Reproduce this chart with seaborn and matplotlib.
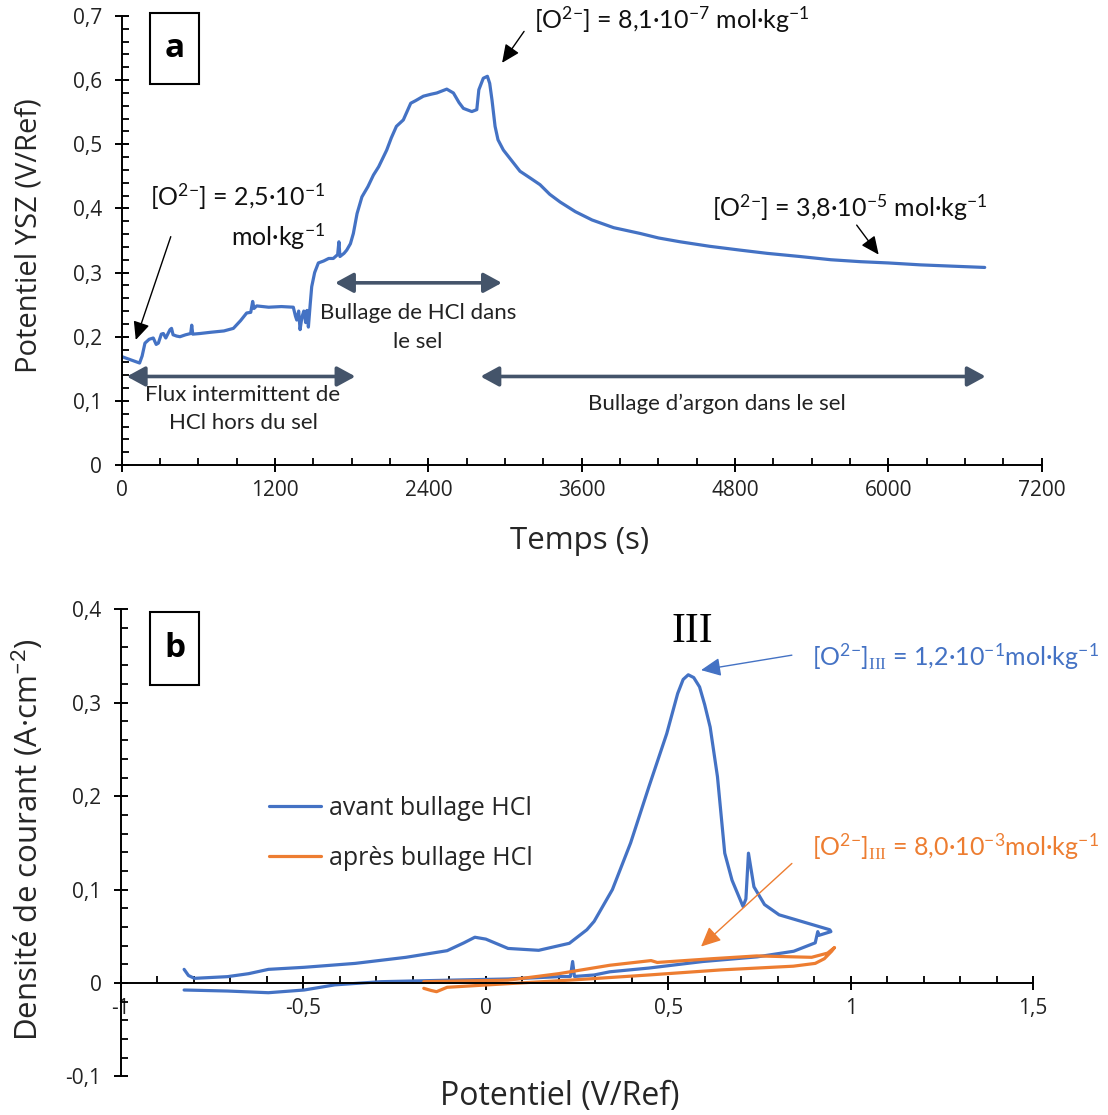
import numpy as np
import pandas as pd
import matplotlib
matplotlib.use("Agg")
import matplotlib.pyplot as plt
import seaborn as sns
from matplotlib.patches import Rectangle
from matplotlib.ticker import MultipleLocator, FuncFormatter

# ---------------- data : panel a (potentiel YSZ vs temps) ----------------
time_s = [0, 70, 140, 160, 182, 215, 247, 270, 287, 310, 326, 345, 378, 390, 402,
          430, 456, 500, 540, 548, 556, 613, 700, 800, 874, 930, 978, 1010, 1025,
          1035, 1057, 1150, 1250, 1343, 1360, 1370, 1385, 1396, 1410, 1425, 1440,
          1450, 1461, 1475, 1487, 1510, 1539, 1580, 1620, 1656, 1690, 1700, 1708,
          1740, 1761, 1790, 1813, 1842, 1880, 1927, 1970, 2011, 2074, 2110, 2150,
          2204, 2262, 2300, 2361, 2420, 2466, 2544, 2596, 2640, 2674, 2740, 2779,
          2795, 2830, 2862, 2880, 2898, 2922, 2945, 2987, 3050, 3117, 3200, 3274,
          3350, 3431, 3550, 3681, 3850, 4057, 4200, 4370, 4600, 4840, 5050, 5310,
          5550, 5780, 6000, 6252, 6500, 6754]
potential_ysz = [0.169, 0.164, 0.159, 0.170, 0.190, 0.196, 0.198, 0.188, 0.190, 0.204,
                 0.205, 0.198, 0.211, 0.213, 0.203, 0.201, 0.200, 0.203, 0.205, 0.218,
                 0.204, 0.205, 0.207, 0.209, 0.213, 0.225, 0.237, 0.238, 0.255, 0.244,
                 0.248, 0.246, 0.247, 0.246, 0.232, 0.226, 0.240, 0.211, 0.230, 0.240,
                 0.222, 0.241, 0.215, 0.250, 0.278, 0.300, 0.315, 0.318, 0.322, 0.322,
                 0.328, 0.348, 0.325, 0.330, 0.335, 0.345, 0.361, 0.392, 0.418, 0.434,
                 0.452, 0.465, 0.491, 0.510, 0.528, 0.538, 0.564, 0.568, 0.575, 0.578,
                 0.580, 0.586, 0.580, 0.565, 0.556, 0.551, 0.554, 0.585, 0.603, 0.606,
                 0.595, 0.569, 0.528, 0.507, 0.491, 0.475, 0.458, 0.447, 0.437, 0.422,
                 0.410, 0.395, 0.382, 0.370, 0.361, 0.354, 0.348, 0.341, 0.335, 0.330,
                 0.325, 0.320, 0.317, 0.315, 0.312, 0.310, 0.308]

# ---------------- data : panel b (voltampérogrammes) ----------------
e_avant = [-0.827, -0.815, -0.799, -0.708, -0.650, -0.596, -0.498, -0.358, -0.219,
           -0.106, -0.060, -0.030, 0.000, 0.061, 0.145, 0.229, 0.277, 0.297, 0.347,
           0.397, 0.447, 0.496, 0.526, 0.541, 0.555, 0.570, 0.586, 0.600, 0.615,
           0.635, 0.655, 0.675, 0.705, 0.713, 0.720, 0.735, 0.764, 0.804, 0.943, 0.946,
           0.913, 0.910, 0.903, 0.844, 0.744, 0.595, 0.447, 0.340, 0.297, 0.243,
           0.238, 0.232, 0.201, 0.061, -0.079, -0.288, -0.414, -0.498, -0.596,
           -0.708, -0.827]
j_avant = [0.0146, 0.008, 0.005, 0.0068, 0.010, 0.0146, 0.0168, 0.021, 0.0275,
           0.0346, 0.043, 0.049, 0.047, 0.037, 0.035, 0.0425, 0.057, 0.066, 0.100,
           0.150, 0.210, 0.267, 0.310, 0.325, 0.330, 0.327, 0.317, 0.298, 0.274,
           0.221, 0.139, 0.110, 0.082, 0.090, 0.139, 0.103, 0.084, 0.073, 0.057, 0.055,
           0.051, 0.055, 0.043, 0.034, 0.028, 0.023, 0.016, 0.012, 0.0086, 0.007,
           0.023, 0.007, 0.0068, 0.0043, 0.0032, 0.0014, -0.002, -0.0075, -0.0104,
           -0.0086, -0.0075]
e_apres = [-0.170, 0.061, 0.200, 0.340, 0.453, 0.470, 0.620, 0.743, 0.893, 0.937,
           0.956, 0.948, 0.928, 0.903, 0.843, 0.644, 0.447, 0.248, 0.005, -0.106,
           -0.135, -0.150, -0.170]
j_apres = [0.0014, 0.003, 0.010, 0.019, 0.024, 0.022, 0.026, 0.029, 0.0275, 0.032,
           0.038, 0.034, 0.026, 0.021, 0.018, 0.014, 0.0086, 0.0035, -0.002, -0.0046,
           -0.0093, -0.008, -0.0057]

series_labels = ["avant bullage HCl", "après bullage HCl"]
xticks_a = [0, 1200, 2400, 3600, 4800, 6000, 7200]
yticks_a = [0, 0.1, 0.2, 0.3, 0.4, 0.5, 0.6, 0.7]
xticks_b = [-1, -0.5, 0, 0.5, 1, 1.5]
yticks_b = [-0.1, 0, 0.1, 0.2, 0.3, 0.4]

BLUE = "#4472C4"
ORANGE = "#ED7D31"
SLATE = "#44546A"

sns.set_theme(style="ticks")
plt.rcParams["font.family"] = ["Open Sans", "DejaVu Sans"]
plt.rcParams["mathtext.fontset"] = "custom"
plt.rcParams["mathtext.rm"] = "Lato"
plt.rcParams["mathtext.it"] = "Lato:italic"
plt.rcParams["mathtext.bf"] = "Lato:bold"
plt.rcParams["mathtext.tt"] = "Liberation Serif"

W, H = 1108, 1115
fig = plt.figure(figsize=(W / 100, H / 100), dpi=100)
axA = fig.add_axes([121.7 / W, 1 - 465 / H, 920 / W, 449 / H])
axB = fig.add_axes([121 / W, 1 - 1076.4 / H, 912 / W, 467 / H])

dfA = pd.DataFrame({"t": time_s, "V": potential_ysz})
sns.lineplot(data=dfA, x="t", y="V", ax=axA, sort=False, estimator=None,
             color=BLUE, lw=2.3)

dfB1 = pd.DataFrame({"E": e_avant, "j": j_avant})
dfB2 = pd.DataFrame({"E": e_apres, "j": j_apres})
sns.lineplot(data=dfB1, x="E", y="j", ax=axB, sort=False, estimator=None,
             color=BLUE, lw=2.3, label=series_labels[0])
sns.lineplot(data=dfB2, x="E", y="j", ax=axB, sort=False, estimator=None,
             color=ORANGE, lw=2.3, label=series_labels[1])

fmt = FuncFormatter(lambda v, p: ("%g" % round(v, 3)).replace(".", ","))

for ax in (axA, axB):
    for s in ("top", "right"):
        ax.spines[s].set_visible(False)
    for s in ("left", "bottom"):
        ax.spines[s].set_color("black")
        ax.spines[s].set_linewidth(1.4)
    ax.tick_params(which="major", direction="inout", length=10, width=1.4,
                   color="black", labelsize=15, labelcolor="#222222")
    ax.tick_params(which="minor", direction="in", length=5, width=1.3, color="black")
    ax.tick_params(axis="x", which="major", pad=6)
    ax.tick_params(axis="y", which="major", pad=9)
    ax.xaxis.set_major_formatter(fmt)
    ax.yaxis.set_major_formatter(fmt)
    ax.grid(False)

# panel a axes
axA.set_xlim(0, 7200)
axA.set_ylim(0, 0.7)
axA.set_xticks(xticks_a)
axA.set_yticks(yticks_a)
axA.xaxis.set_minor_locator(MultipleLocator(300))
axA.yaxis.set_minor_locator(MultipleLocator(0.02))
axA.set_xlabel("Temps (s)", fontsize=22.5, va="center")
axA.set_ylabel("Potentiel YSZ (V/Ref)", fontsize=21, va="center")
axA.xaxis.set_label_coords(0.498, -0.169)
axA.yaxis.set_label_coords(-0.101, 0.51)

# panel b axes
axB.set_xlim(-1, 1.5)
axB.set_ylim(-0.1, 0.4)
axB.set_xticks(xticks_b)
axB.set_yticks(yticks_b)
axB.xaxis.set_minor_locator(MultipleLocator(0.1))
axB.yaxis.set_minor_locator(MultipleLocator(0.02))
axB.spines["bottom"].set_position(("data", 0))
axB.set_xlabel("Potentiel (V/Ref)", fontsize=23, va="center")
axB.set_ylabel("Densité de courant (A·cm$^{-2}$)", fontsize=22.5, va="center")
axB.xaxis.set_label_coords(0.481, -0.044)
axB.yaxis.set_label_coords(-0.103, 0.506)

leg = axB.legend(loc="upper left", bbox_to_anchor=(0.151, 0.622), frameon=False,
                 fontsize=18, handlelength=2.1, handletextpad=0.3, labelspacing=1.0,
                 borderaxespad=0)

# ---------------- annotations panel a ----------------
ann_font = ["Lato", "DejaVu Sans"]
black_arrow = dict(arrowstyle="-|>,head_length=0.55,head_width=0.25", color="black",
                   lw=1.0, shrinkA=0, shrinkB=0, mutation_scale=20)
dbl_arrow = dict(arrowstyle="<|-|>,head_length=0.55,head_width=0.3", color=SLATE,
                 lw=2.6, shrinkA=0, shrinkB=0, mutation_scale=20)

axA.text(1591, 0.418, r"[O$^{2\mathrm{-}}$] = 2,5·10$^{-1}$", fontsize=18,
         family=ann_font, ha="right", va="center", color="#111111")
axA.text(1591, 0.356, r"mol·kg$^{-1}$", fontsize=18, family=ann_font,
         ha="right", va="center", color="#111111")
axA.annotate("", xy=(110, 0.195), xytext=(384, 0.356), arrowprops=black_arrow)

axA.text(3228, 0.694, r"[O$^{2\mathrm{-}}$] = 8,1·10$^{-7}$ mol·kg$^{-1}$", fontsize=18,
         family=ann_font, ha="left", va="center", color="#111111")
axA.annotate("", xy=(2977, 0.627), xytext=(3149, 0.676), arrowprops=black_arrow)

axA.text(4621, 0.401, r"[O$^{2\mathrm{-}}$] = 3,8·10$^{-5}$ mol·kg$^{-1}$", fontsize=18,
         family=ann_font, ha="left", va="center", color="#111111")
axA.annotate("", xy=(5924, 0.328), xytext=(5752, 0.374), arrowprops=black_arrow)

axA.annotate("", xy=(1829, 0.138), xytext=(40, 0.138), arrowprops=dbl_arrow)
axA.text(949, 0.109, "Flux intermittent de", fontsize=16, family=ann_font,
         ha="center", va="center", color="#222222")
axA.text(949, 0.066, "HCl hors du sel", fontsize=16, family=ann_font,
         ha="center", va="center", color="#222222")

axA.annotate("", xy=(2975, 0.284), xytext=(1670, 0.284), arrowprops=dbl_arrow)
axA.text(2317, 0.2367, "Bullage de HCl dans", fontsize=16, family=ann_font,
         ha="center", va="center", color="#222222")
axA.text(2317, 0.192, "le sel", fontsize=16, family=ann_font,
         ha="center", va="center", color="#222222")

axA.annotate("", xy=(6761, 0.138), xytext=(2808, 0.138), arrowprops=dbl_arrow)
axA.text(4660, 0.096, "Bullage d’argon dans le sel", fontsize=16, family=ann_font,
         ha="center", va="center", color="#222222")

# ---------------- annotations panel b ----------------
axB.text(0.565, 0.376, "III", fontsize=30, family=["Liberation Serif"],
         ha="center", va="center", color="black")
axB.text(0.893, 0.349,
         r"[O$^{2\mathrm{-}}$]$_{\mathtt{III}}$ = 1,2·10$^{-1}$mol·kg$^{-1}$",
         fontsize=18, family=ann_font, ha="left", va="center", color=BLUE)
axB.annotate("", xy=(0.590, 0.335), xytext=(0.839, 0.351),
             arrowprops=dict(arrowstyle="-|>,head_length=0.6,head_width=0.28",
                             color=BLUE, lw=1.0, shrinkA=0, shrinkB=0,
                             mutation_scale=20))
axB.text(0.893, 0.146,
         r"[O$^{2\mathrm{-}}$]$_{\mathtt{III}}$ = 8,0·10$^{-3}$mol·kg$^{-1}$",
         fontsize=18, family=ann_font, ha="left", va="center", color=ORANGE)
axB.annotate("", xy=(0.590, 0.039), xytext=(0.839, 0.128),
             arrowprops=dict(arrowstyle="-|>,head_length=0.6,head_width=0.28",
                             color=ORANGE, lw=1.0, shrinkA=0, shrinkB=0,
                             mutation_scale=20))

# ---------------- panel letters ----------------
for letter, (x0, y0, x1, y1) in (("a", (150, 13, 199, 84)), ("b", (150, 612, 199, 685))):
    fig.add_artist(Rectangle((x0 / W, 1 - y1 / H), (x1 - x0) / W, (y1 - y0) / H,
                             transform=fig.transFigure, fill=False, ec="black", lw=1.5))
    fig.text((x0 + x1) / 2 / W, 1 - (y0 + y1) / 2 / H, letter, fontsize=24,
             fontweight="bold", ha="center", va="center", color="black")

fig.savefig("out.png", dpi=100)
